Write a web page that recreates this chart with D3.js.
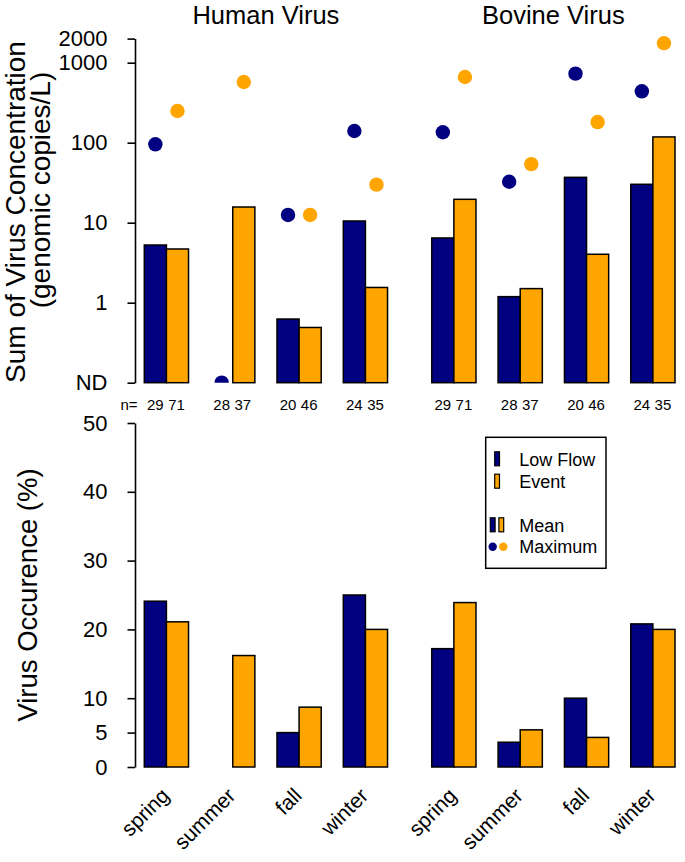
<!DOCTYPE html>
<html>
<head>
<meta charset="utf-8">
<script src="https://cdn.jsdelivr.net/npm/d3@7"></script>
<style>
  html, body { margin: 0; padding: 0; background: #fff; }
  svg { display: block; }
  text { font-family: "Liberation Sans", Arial, sans-serif; fill: #000; }
</style>
</head>
<body>
<svg id="chart" width="685" height="862"></svg>
<script>
// ---------------- data ----------------
const viruses = ["Human Virus", "Bovine Virus"];
const seasons = ["spring", "summer", "fall", "winter"];
const seriesNames = ["Low Flow", "Event"];
const ND = 0.1; // "not detected" floor of the log axis

// mean concentrations (genomic copies/L); null = ND
const humanMeanLow   = [5.26, null, 0.625, 10.5];
const humanMeanEvent = [4.69, 15.7, 0.49, 1.55];
const bovineMeanLow   = [6.44, 1.19, 36.9, 30.2];
const bovineMeanEvent = [19.6, 1.50, 4.03, 118];

// maximum concentrations
const humanMaxLow   = [95.5, null, 12.5, 140];
const humanMaxEvent = [249, 574, 12.5, 29.9];
const bovineMaxLow   = [135, 32.5, 729, 439];
const bovineMaxEvent = [662, 54, 181, 1748];

// sample sizes
const nLow   = [29, 28, 20, 24];
const nEvent = [71, 37, 46, 35];

// occurrence (%)
const humanOccLow   = [24.1, 0, 5.0, 25.0];
const humanOccEvent = [21.1, 16.2, 8.7, 20.0];
const bovineOccLow   = [17.2, 3.6, 10.0, 20.8];
const bovineOccEvent = [23.9, 5.4, 4.3, 20.0];

// ticks
const concTicks = [ND, 1, 10, 100, 1000, 2000];
const concTickLabels = ["ND", "1", "10", "100", "1000", "2000"];
const occTicks = [0, 5, 10, 20, 30, 40, 50];

const colors = ["#000080", "#FFA500"];

// ---------------- build tables ----------------
const meanData = [[humanMeanLow, humanMeanEvent], [bovineMeanLow, bovineMeanEvent]];
const maxData  = [[humanMaxLow, humanMaxEvent], [bovineMaxLow, bovineMaxEvent]];
const occData  = [[humanOccLow, humanOccEvent], [bovineOccLow, bovineOccEvent]];
const nData = [nLow, nEvent];

const cells = [];
viruses.forEach((v, vi) => seasons.forEach((s, si) => [0, 1].forEach(k => {
  cells.push({
    vi, si, k,
    slot: vi * 13 + si * 3 + k,          // position in bar-width units
    mean: meanData[vi][k][si] == null ? ND : meanData[vi][k][si],
    max:  maxData[vi][k][si] == null ? ND : maxData[vi][k][si],
    occ:  occData[vi][k][si],
    n:    nData[k][si]
  });
})));

// ---------------- scales ----------------
const svg = d3.select("#chart");
const x = d3.scaleLinear().domain([0, 24]).range([144.3, 675]);
const bw = x(1) - x(0);
const yTop = d3.scaleLog().domain([ND, 2000]).range([382.7, 38.6]);
const yBot = d3.scaleLinear().domain([0, 50]).range([767, 423]);
const axisX = 135;

// ---------------- top panel ----------------
svg.append("defs").append("clipPath").attr("id", "clipTop")
  .append("rect").attr("x", axisX).attr("y", 0).attr("width", 685 - axisX).attr("height", yTop(ND));

const topPanel = svg.append("g");
topPanel.append("g").selectAll("rect").data(cells).join("rect")
  .attr("x", d => x(d.slot))
  .attr("width", bw)
  .attr("y", d => yTop(d.mean))
  .attr("height", d => yTop(ND) - yTop(d.mean))
  .attr("fill", d => colors[d.k])
  .attr("stroke", "#000").attr("stroke-width", 1.5);

topPanel.append("g").attr("clip-path", "url(#clipTop)")
  .selectAll("circle").data(cells).join("circle")
  .attr("cx", d => x(d.slot + 0.5))
  .attr("cy", d => yTop(d.max))
  .attr("r", 7.2)
  .attr("fill", d => colors[d.k]);

const axTop = svg.append("g").attr("transform", `translate(${axisX},0)`)
  .call(d3.axisLeft(yTop).tickValues(concTicks)
    .tickFormat((d, i) => concTickLabels[i])
    .tickSize(7.5).tickSizeOuter(0).tickPadding(20));
axTop.selectAll("text").attr("font-size", 22).attr("font-family", '"Liberation Sans", Arial, sans-serif');
axTop.selectAll("path,line").attr("stroke", "#000").attr("stroke-width", 1.6);

// group titles
viruses.forEach((v, vi) => {
  svg.append("text")
    .attr("x", (x(vi * 13) + x(vi * 13 + 11)) / 2)
    .attr("y", 23.5)
    .attr("text-anchor", "middle")
    .attr("font-size", 25.5)
    .text(v);
});

// n labels
svg.append("text").attr("x", 129).attr("y", 410).attr("text-anchor", "middle")
  .attr("font-size", 15).text("n=");
svg.append("g").selectAll("text").data(cells).join("text")
  .attr("x", d => x(d.slot + 0.5) + (d.k === 0 ? 0 : -1))
  .attr("y", 410)
  .attr("text-anchor", "middle")
  .attr("font-size", 15)
  .text(d => d.n);

// y title (top)
svg.append("text")
  .attr("transform", "translate(25,212) rotate(-90)")
  .attr("text-anchor", "middle").attr("font-size", 28)
  .text("Sum of Virus Concentration");
svg.append("text")
  .attr("transform", "translate(50,190) rotate(-90)")
  .attr("text-anchor", "middle").attr("font-size", 28)
  .text("(genomic copies/L)");

// ---------------- bottom panel ----------------
svg.append("g").selectAll("rect").data(cells).join("rect")
  .attr("x", d => x(d.slot))
  .attr("width", bw)
  .attr("y", d => yBot(d.occ))
  .attr("height", d => yBot(0) - yBot(d.occ))
  .attr("fill", d => colors[d.k])
  .attr("stroke", "#000").attr("stroke-width", 1.5);

const axBot = svg.append("g").attr("transform", `translate(${axisX},0)`)
  .call(d3.axisLeft(yBot).tickValues(occTicks)
    .tickSize(7.5).tickSizeOuter(0).tickPadding(20));
axBot.selectAll("text").attr("font-size", 22).attr("font-family", '"Liberation Sans", Arial, sans-serif');
axBot.selectAll("path,line").attr("stroke", "#000").attr("stroke-width", 1.6);

svg.append("text")
  .attr("transform", "translate(37,595) rotate(-90)")
  .attr("text-anchor", "middle").attr("font-size", 27.5)
  .text("Virus Occurence (%)");

// x labels
viruses.forEach((v, vi) => seasons.forEach((s, si) => {
  const cx = x(vi * 13 + si * 3 + 1);
  svg.append("text")
    .attr("transform", `translate(${cx + 4},${797}) rotate(-45)`)
    .attr("text-anchor", "end")
    .attr("font-size", 21)
    .text(s);
}));

// ---------------- legend ----------------
const lg = svg.append("g");
lg.append("rect").attr("x", 485.7).attr("y", 437.3).attr("width", 120.3).attr("height", 131)
  .attr("fill", "#fff").attr("stroke", "#000").attr("stroke-width", 1.5);
const textX = 519.3;
const rowY = [459.3, 481.7, 525.3, 546.7];
seriesNames.forEach((nm, k) => {
  lg.append("rect").attr("x", 494.7).attr("y", rowY[k] - 7.5).attr("width", 4.8).attr("height", 14)
    .attr("fill", colors[k]).attr("stroke", "#000").attr("stroke-width", 1.2);
  lg.append("text").attr("x", textX).attr("y", rowY[k]).attr("dy", "0.35em")
    .attr("font-size", 18).text(nm);
});
colors.forEach((c, k) => {
  lg.append("rect").attr("x", 490.3 + k * 8.6).attr("y", rowY[2] - 7.5).attr("width", 4.8).attr("height", 14)
    .attr("fill", c).attr("stroke", "#000").attr("stroke-width", 1.2);
  lg.append("circle").attr("cx", 492.7 + k * 10.6).attr("cy", rowY[3]).attr("r", 4.2).attr("fill", c);
});
lg.append("text").attr("x", textX).attr("y", rowY[2]).attr("dy", "0.35em").attr("font-size", 18).text("Mean");
lg.append("text").attr("x", textX).attr("y", rowY[3]).attr("dy", "0.35em").attr("font-size", 18).text("Maximum");
</script>
</body>
</html>
